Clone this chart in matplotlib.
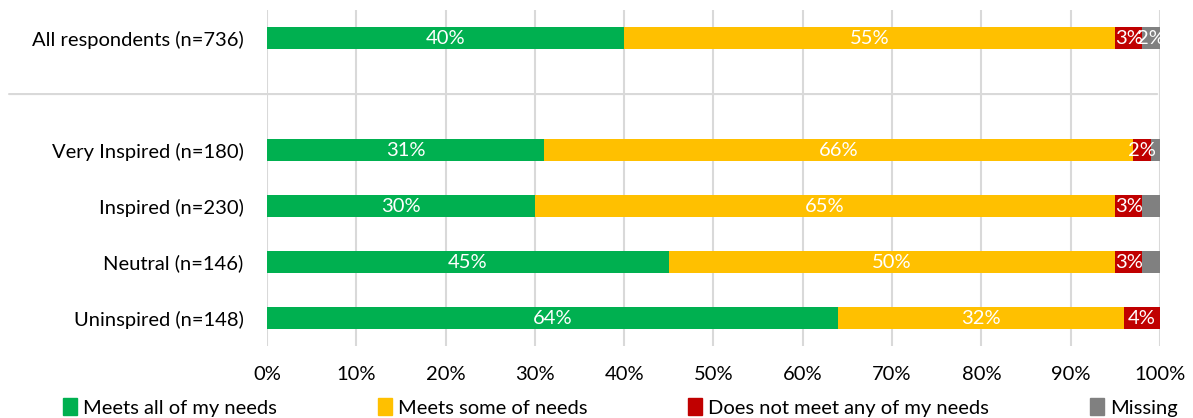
import numpy as np
import matplotlib.pyplot as plt
from matplotlib.patches import Patch

plt.rcParams['font.family'] = ['Lato', 'DejaVu Sans']

# rows from top to bottom, "" is the empty slot holding the separator line
categories = ["All respondents (n=736)", "", "Very Inspired (n=180)",
              "Inspired (n=230)", "Neutral (n=146)", "Uninspired (n=148)"]
series = ["Meets all of my needs", "Meets some of needs",
          "Does not meet any of my needs", "Missing"]
colors = ["#00B050", "#FFC000", "#C00000", "#808080"]

meets_all = [40, 0, 31, 30, 45, 64]
meets_some = [55, 0, 66, 65, 50, 32]
meets_none = [3, 0, 2, 3, 3, 4]
missing = [2, 0, 1, 2, 2, 0]
# which segments carry a data label
show_all = [True, False, True, True, True, True]
show_some = [True, False, True, True, True, True]
show_none = [True, False, True, True, True, True]
show_missing = [True, False, False, False, False, False]

values = [meets_all, meets_some, meets_none, missing]
shows = [show_all, show_some, show_none, show_missing]

fig = plt.figure(figsize=(11.93, 4.18), dpi=100)
ax = fig.add_axes([0.2238, 0.172, 0.7485, 0.804])

y = np.arange(len(categories))
left = np.zeros(len(categories))
for vals, show, col, name in zip(values, shows, colors, series):
    vals = np.array(vals, dtype=float)
    ax.barh(y, vals, left=left, height=0.4, color=col, label=name, zorder=3)
    for yi, v, l, s in zip(y, vals, left, show):
        if s and v > 0:
            ax.text(l + v / 2, yi, f"{int(v)}%", ha="center", va="center",
                    color="white", fontsize=14.5, zorder=4)
    left += vals

ax.set_xlim(0, 100)
ax.set_ylim(5.5, -0.5)
ax.set_xticks(np.arange(0, 101, 10))
ax.set_xticklabels([f"{t}%" for t in range(0, 101, 10)], fontsize=14.5)
ax.set_yticks([i for i, c in enumerate(categories) if c])
ax.set_yticklabels([c for c in categories if c], fontsize=14.5)
ax.tick_params(length=0)
ax.tick_params(axis="y", pad=17)
ax.tick_params(axis="x", pad=14)
ax.grid(axis="x", color="#D9D9D9", linewidth=1.5, zorder=0)
for s in ax.spines.values():
    s.set_visible(False)

# separator between overall and the groups
ax.annotate("", xy=(1.0, 1), xycoords=("axes fraction", "data"),
            xytext=(-0.292, 1), textcoords=("axes fraction", "data"),
            arrowprops=dict(arrowstyle="-", color="#D9D9D9", lw=1.5))

handles = [Patch(color=c, label=n) for c, n in zip(colors, series)]
fig.legend(handles=handles, loc="lower center", ncol=4, frameon=False,
           fontsize=14.5, bbox_to_anchor=(0.52, -0.04), handlelength=0.7,
           handleheight=0.9, handletextpad=0.3, columnspacing=5.0)

fig.savefig("out.png", dpi=100)
